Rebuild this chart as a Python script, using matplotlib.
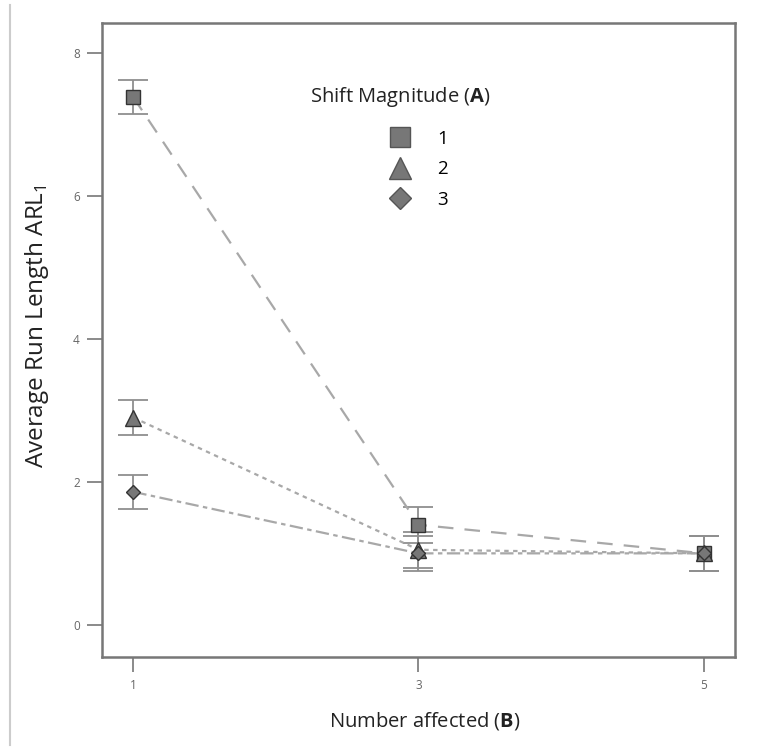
import numpy as np
import matplotlib
matplotlib.use("Agg")
import matplotlib.pyplot as plt
from matplotlib.lines import Line2D

plt.rcParams['font.family'] = ['Open Sans', 'DejaVu Sans']
plt.rcParams['mathtext.fontset'] = 'custom'
plt.rcParams['mathtext.rm'] = 'Open Sans'
plt.rcParams['mathtext.bf'] = 'Open Sans:bold'

# number affected (B)
n_affected = [1, 3, 5]
# mean ARL1 per shift magnitude (A)
arl_shift1 = [7.38, 1.40, 1.00]
arl_shift2 = [2.90, 1.05, 1.00]
arl_shift3 = [1.86, 1.00, 1.00]
# half-width of the LSD error bars
err_shift1 = [0.24, 0.25, 0.24]
err_shift2 = [0.24, 0.25, 0.24]
err_shift3 = [0.24, 0.24, 0.24]
shift_labels = ['1', '2', '3']
y_ticks = [0, 2, 4, 6, 8]


fig = plt.figure(figsize=(7.58, 7.47), dpi=100)
ax = fig.add_axes([0.1346, 0.1205, 0.835, 0.8487])

# (values, errors, marker, linestyle, plot size, legend size)
series = [
    (arl_shift1, err_shift1, 's', (0, (7, 5)), 10, 15),
    (arl_shift2, err_shift2, '^', (0, (2, 2)), 11, 16),
    (arl_shift3, err_shift3, 'D', (0, (6, 2, 2, 2)), 7, 11),
]

handles = []
for (vals, errs, mk, ls, ms, lms), lab in zip(series, shift_labels):
    ax.errorbar(n_affected, vals, yerr=errs, fmt='none', ecolor='#8f8f8f',
                elinewidth=1.3, capsize=11, capthick=1.3, zorder=2)
    ax.plot(n_affected, vals, color='#a8a8a8', linestyle=ls, linewidth=1.6,
            zorder=3)
    ax.plot(n_affected, vals, linestyle='none', marker=mk, markersize=ms,
            markerfacecolor='#777777', markeredgecolor='#333333',
            markeredgewidth=1.0, zorder=4)
    handles.append(Line2D([], [], linestyle='none', marker=mk,
                          markersize=lms, markerfacecolor='#777777',
                          markeredgecolor='#555555', label=lab))

ax.set_xlim(0.78, 5.22)
ax.set_ylim(-0.45, 8.42)
ax.set_xticks(n_affected)
ax.set_yticks(y_ticks)
ax.tick_params(direction='out', length=11, width=1.2, colors='#777777',
               labelsize=8.5, labelcolor='#666666', pad=5)

for sp in ax.spines.values():
    sp.set_color('#777777')
    sp.set_linewidth(1.8)

ax.set_xlabel(r'Number affected ($\mathbf{B}$)', fontsize=14.5,
              color='#222222')
ax.xaxis.set_label_coords(0.51, -0.083)
ax.set_ylabel(r'Average Run Length ARL$_\mathregular{1}$', fontsize=17.5,
              color='#222222')
ax.yaxis.set_label_coords(-0.08, 0.522)

ax.text(0.471, 0.883, r'Shift Magnitude ($\mathbf{A}$)', transform=ax.transAxes,
        ha='center', va='center', fontsize=14.5, color='#222222')
ax.legend(handles=handles, loc='upper center', bbox_to_anchor=(0.497, 0.832),
          frameon=False, fontsize=13.5, borderpad=0, borderaxespad=0,
          handletextpad=1.2, labelspacing=0.68, handlelength=1.6)

# page border on the left
fig.add_artist(Line2D([0.013, 0.013], [0.003, 0.993], color='#cccccc',
                      linewidth=1.5, transform=fig.transFigure))

fig.savefig('out.png', dpi=100)
